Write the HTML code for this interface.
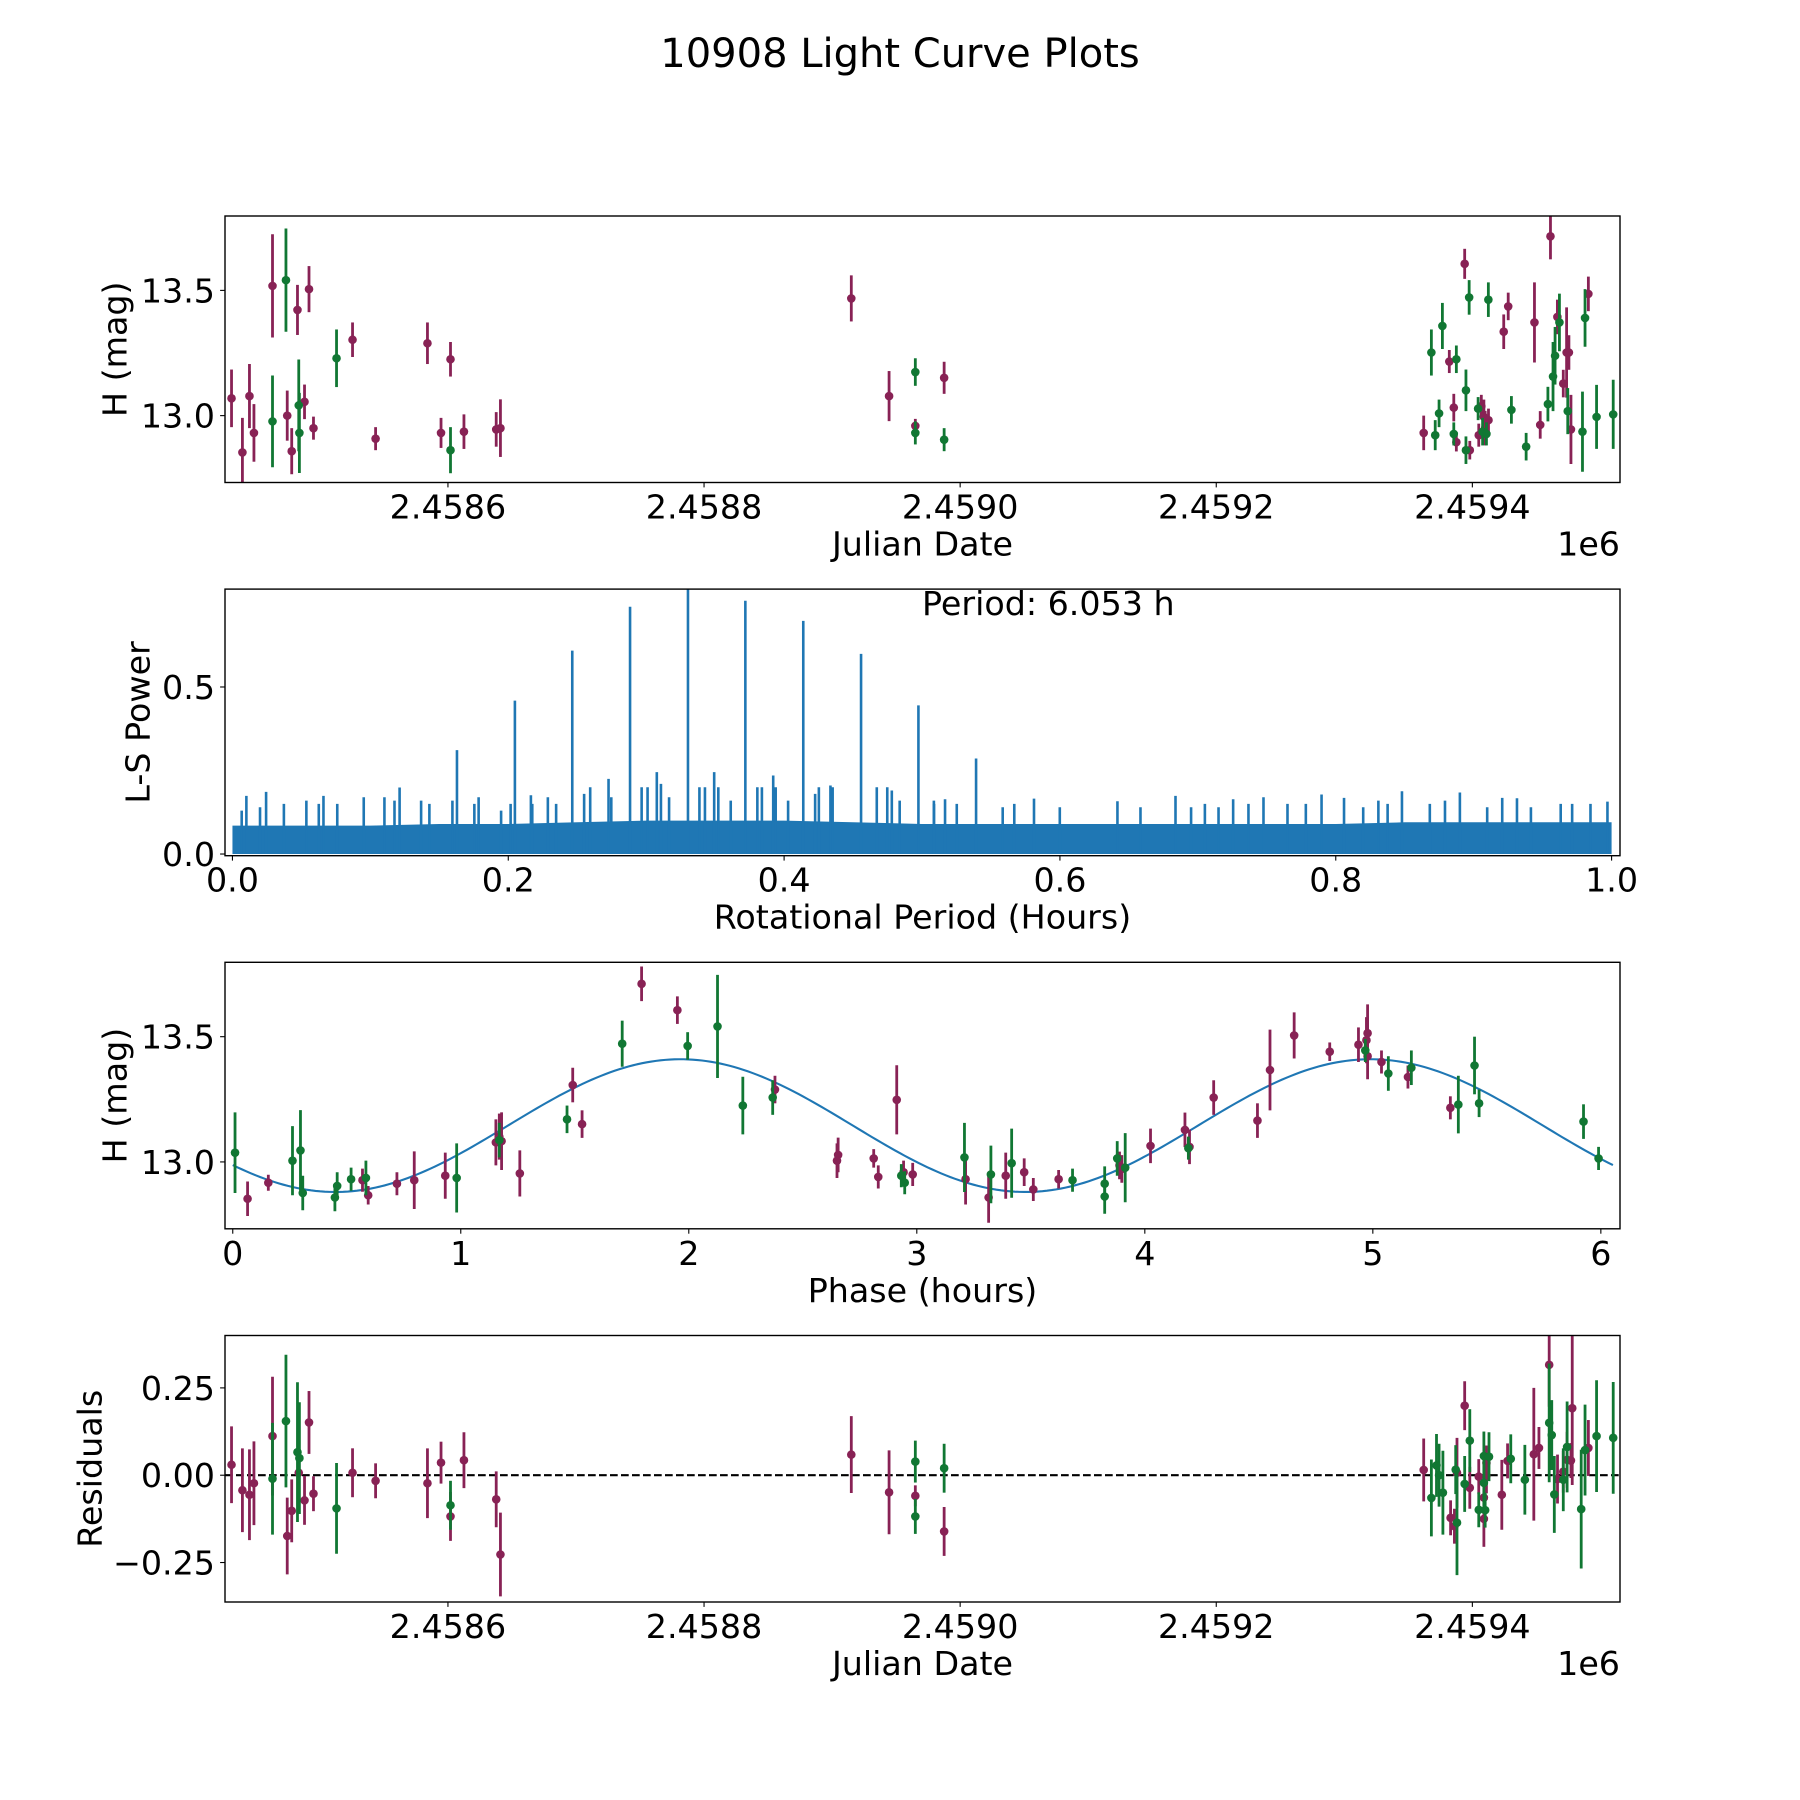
<!DOCTYPE html>
<html><head><meta charset="utf-8"><style>
html,body{margin:0;padding:0;background:#fff;}
svg{display:block;font-family:"DejaVu Sans","Liberation Sans",sans-serif;}
</style></head><body>
<svg id="fig" width="1800" height="1800" viewBox="0 0 1800 1800" xmlns="http://www.w3.org/2000/svg">
<rect x="0" y="0" width="1800" height="1800" fill="#fff"/>
<text x="900" y="67" font-size="40" text-anchor="middle">10908 Light Curve Plots</text>
</svg>
<script>
// ---------- Panel 1: light curve (JD vs H mag) ----------
const jdMaroon = [2458431,2458439.5,2458445,2458448.5,2458463,2458474.5,2458478,2458482.5,2458488,2458491.5,2458495,2458525.5,2458543.5,2458584,2458594.6,2458602,2458612.5,2458637.7,2458641,2458915,2458944.5,2458965,2458987.5,2459362,2459382,2459385.5,2459387.5,2459394,2459398,2459405,2459407,2459409,2459410,2459412.6,2459424.5,2459428,2459448.5,2459453,2459461,2459466.4,2459471,2459473.6,2459475.4,2459477,2459490.6];
const magMaroon = [13.069,12.853,13.078,12.931,13.518,13.0,12.858,13.422,13.055,13.505,12.95,13.303,12.908,13.289,12.931,13.225,12.936,12.945,12.95,13.468,13.078,12.959,13.151,12.931,13.216,13.032,12.894,13.606,12.862,12.922,13.037,12.995,12.95,12.982,13.335,13.436,13.372,12.963,13.716,13.394,13.128,13.252,13.252,12.945,13.486];
const errMaroon = [.115,.138,.128,.115,.206,.10,.092,.10,.069,.092,.046,.069,.046,.083,.06,.069,.069,.069,.115,.092,.10,.028,.064,.069,.046,.055,.037,.06,.037,.046,.046,.069,.069,.046,.069,.055,.16,.055,.092,.069,.055,.18,.069,.138,.069];
const jdGreen = [2458463,2458473.5,2458483.5,2458484,2458513,2458602,2458965,2458965,2458987.5,2459368,2459371,2459374,2459376.6,2459385.5,2459387.5,2459395,2459395,2459397.5,2459404.5,2459408,2459411,2459412.5,2459430.5,2459442,2459459,2459463,2459464.6,2459468,2459474.5,2459486,2459488,2459497,2459510];
const magGreen = [12.977,13.541,13.041,12.931,13.229,12.862,13.174,12.931,12.904,13.252,12.922,13.009,13.358,12.927,13.225,13.101,12.862,13.472,13.028,12.936,12.927,13.463,13.023,12.876,13.046,13.156,13.239,13.372,13.018,12.936,13.39,12.995,13.005];
const errGreen = [.183,.206,.183,.16,.115,.092,.055,.046,.046,.092,.06,.055,.092,.046,.055,.083,.055,.069,.046,.055,.046,.069,.055,.055,.069,.138,.115,.115,.092,.16,.115,.128,.138];
const jdTicks = [2458600,2458800,2459000,2459200,2459400];
const jdTickLabels = ["2.4586","2.4588","2.4590","2.4592","2.4594"];
const magTicks = [13.0,13.5];
const magTickLabels = ["13.0","13.5"];

// ---------- Panel 2: periodogram ----------
const peakPeriods = [0.3303,0.2883,0.3719,0.4139,0.2464,0.4558,0.2048,0.4974,0.1628,0.5392,0.3077,0.3493,0.2727,0.3921,0.4336,0.1212,0.0244,0.0101,0.0660,0.076,0.2164,0.1754,0.5087,0.6838,0.848,0.890,0.7897,0.806,0.9207,0.9314,0.7256,0.7476,0.5812,0.5167,0.997,0.6417,
 0.0067,0.020,0.0373,0.0536,0.0626,0.0952,0.1102,0.1175,0.1368,0.1428,0.1595,0.1785,0.1948,0.2017,0.2174,0.2287,0.2347,0.255,0.2594,0.2747,0.2967,0.301,0.3107,0.3166,0.3386,0.3426,0.3523,0.3613,0.3806,0.3839,0.3939,0.4029,0.4225,0.4252,0.4352,0.4672,0.4748,0.4781,0.4838,
 0.5086,0.5252,0.5585,0.5669,0.5999,0.6584,0.6951,0.7051,0.715,0.7367,0.765,0.7783,0.8199,0.8309,0.8376,0.8682,0.8792,0.9098,0.9415,0.9631,0.9714,0.9847];
const peakPowers = [0.80,0.740,0.758,0.698,0.609,0.599,0.459,0.445,0.311,0.286,0.245,0.245,0.225,0.235,0.205,0.199,0.186,0.174,0.174,0.15,0.176,0.15,0.15,0.174,0.188,0.184,0.178,0.168,0.168,0.167,0.164,0.170,0.166,0.164,0.157,0.158,
 .13,.14,.15,.16,.15,.17,.17,.16,.16,.15,.16,.17,.13,.15,.15,.17,.15,.18,.2,.17,.2,.2,.21,.17,.2,.2,.2,.16,.2,.2,.2,.16,.18,.2,.2,.2,.2,.19,.16,
 .16,.15,.14,.15,.14,.14,.14,.15,.14,.15,.15,.15,.14,.16,.15,.15,.16,.14,.14,.15,.15,.15];
const bandPeriods = [0,0.05,0.1,0.15,0.2,0.25,0.3,0.35,0.4,0.45,0.5,0.55,0.6,0.65,0.7,0.75,0.8,0.85,0.9,0.95,1.0];
const bandPowers = [0.085,0.085,0.085,0.09,0.09,0.095,0.10,0.10,0.10,0.095,0.09,0.09,0.09,0.09,0.09,0.09,0.09,0.095,0.095,0.095,0.095];
const perTicks = [0,0.2,0.4,0.6,0.8,1.0];
const perTickLabels = ["0.0","0.2","0.4","0.6","0.8","1.0"];
const powTicks = [0,0.5];
const powTickLabels = ["0.0","0.5"];

// ---------- Panel 3: phased light curve ----------
const phaseMaroon = [0.065,0.156,0.569,0.594,0.720,0.796,0.932,1.154,1.169,1.179,1.259,1.491,1.532,1.793,1.950,2.378,2.650,2.655,2.811,2.831,2.912,2.942,2.982,3.214,3.315,3.39,3.471,3.511,3.622,3.889,3.899,4.025,4.176,4.196,4.302,4.494,4.549,4.655,4.811,4.937,4.972,4.977,4.977,5.038,5.154,5.340];
const phMagMaroon = [12.853,12.917,12.927,12.867,12.913,12.927,12.945,13.078,13.101,13.083,12.954,13.307,13.151,13.711,13.606,13.289,13.005,13.028,13.014,12.940,13.248,12.959,12.950,12.931,12.858,12.945,12.959,12.890,12.931,12.986,12.972,13.064,13.128,13.06,13.257,13.165,13.367,13.505,13.44,13.468,13.486,13.514,13.422,13.399,13.339,13.216];
const phErrMaroon = [.069,.032,.046,.037,.046,.115,.092,.092,.092,.115,.092,.069,.055,.069,.055,.055,.069,.069,.037,.046,.138,.046,.046,.101,.101,.092,.055,.046,.037,.055,.055,.069,.069,.069,.069,.069,.161,.092,.037,.069,.092,.115,.092,.046,.046,.046];
const phaseGreen = [0.01,0.262,0.297,0.307,0.448,0.458,0.519,0.584,0.982,1.169,1.466,1.708,1.995,2.126,2.237,2.368,2.932,2.947,3.209,3.325,3.416,3.683,3.824,3.824,3.879,3.914,4.191,4.967,5.068,5.169,5.375,5.446,5.466,5.924,5.990];
const phMagGreen = [13.037,13.005,13.046,12.876,12.858,12.904,12.931,12.936,12.936,13.087,13.17,13.472,13.463,13.541,13.225,13.257,12.945,12.917,13.018,12.950,12.995,12.927,12.913,12.862,13.014,12.977,13.055,13.445,13.353,13.376,13.229,13.385,13.234,13.161,13.014];
const phErrGreen = [.161,.138,.161,.069,.055,.055,.046,.069,.138,.069,.055,.092,.055,.206,.115,.069,.046,.046,.138,.115,.138,.046,.069,.069,.069,.138,.046,.046,.069,.069,.115,.115,.055,.069,.046];
const modelMean = [13.145];
const modelAmp = [0.265];
const modelPhase0 = [0.45];
const modelHalfPeriod = [3.0265];
const modelSpan = [6.053];
const phaseTicks = [0,1,2,3,4,5,6];
const phaseTickLabels = ["0","1","2","3","4","5","6"];

// ---------- Panel 4: residuals ----------
const resJdMaroon = [2458431,2458439.5,2458445,2458448.5,2458463,2458474.5,2458478,2458483.5,2458488,2458491.5,2458495,2458525.5,2458543.5,2458584,2458594.6,2458602,2458612.5,2458637.7,2458641,2458915,2458944.5,2458965,2458987.5,2459362,2459383,2459386,2459388,2459394,2459398,2459405,2459409,2459409,2459411,2459411,2459423,2459427.5,2459448,2459452,2459460,2459466.5,2459471,2459474,2459477,2459478,2459490.6];
const resMaroon = [.03,-.043,-.056,-.023,.112,-.174,-.102,.007,-.072,.151,-.053,.007,-.016,-.023,.036,-.118,.043,-.069,-.227,.059,-.049,-.059,-.161,.015,-.122,-.146,.007,.199,-.036,-.004,-.064,-.125,.035,-.002,-.056,.041,.06,.078,.316,-.011,.01,.044,.042,.192,.078];
const resErrMaroon = [.11,.12,.13,.12,.17,.11,.09,.1,.07,.09,.05,.07,.05,.1,.06,.07,.08,.08,.12,.11,.12,.03,.07,.09,.05,.05,.1,.07,.06,.05,.06,.08,.05,.05,.1,.05,.19,.06,.12,.07,.06,.08,.05,.22,.08];
const resJdGreen = [2458463,2458473.5,2458482.5,2458484,2458513,2458602,2458965,2458965,2458987.5,2459368,2459372,2459374,2459377,2459387,2459388,2459394,2459398,2459405,2459409,2459409,2459410,2459413,2459430,2459441,2459460,2459462,2459464,2459471,2459474,2459485,2459488,2459497,2459510];
const resGreen = [-.01,.155,.066,.049,-.095,-.086,.039,-.118,.02,-.065,.028,0,-.05,.016,-.136,-.025,.099,-.099,.055,-.022,-.1,.053,.047,-.013,.15,.115,-.055,-.013,.081,-.097,.072,.112,.107];
const resErrGreen = [.16,.19,.2,.16,.13,.07,.06,.05,.07,.11,.09,.09,.12,.07,.15,.08,.09,.05,.07,.07,.05,.07,.07,.1,.17,.1,.11,.09,.13,.17,.13,.16,.16];
const resTicks = [-0.25,0,0.25];
const resTickLabels = ["\u22120.25","0.00","0.25"];

// ---------- drawing ----------
const NS = "http://www.w3.org/2000/svg";
const svg = document.getElementById('fig');
const MAROON = "#882255", GREEN = "#117733", BLUE = "#1f77b4";
const FS = 33.3;
function mk(tag, attrs, parent){
  const e = document.createElementNS(NS, tag);
  for (const k in attrs) e.setAttribute(k, attrs[k]);
  (parent||svg).appendChild(e);
  return e;
}
function makeAxes(name, top, bottom, xmin, xmax, ymin, ymax){
  const L = 225, R = 1620;
  const g = mk('g', {});
  
  
  const clipId = 'clip-' + name;
  const cp = mk('clipPath', {id: clipId}, g);
  mk('rect', {x: L, y: top, width: R-L, height: bottom-top}, cp);
  const plot = mk('g', {'clip-path': 'url(#' + clipId + ')'}, g);
  
  
  return {g, plot, L, R, top, bottom,
    sx: v => L + (v - xmin) / (xmax - xmin) * (R - L),
    sy: v => bottom - (v - ymin) / (ymax - ymin) * (bottom - top)};
}
function frame(ax){
  const r = mk('rect', {x: ax.L, y: ax.top, width: ax.R-ax.L, height: ax.bottom-ax.top, fill: 'none', stroke: '#000', 'stroke-width': 1.4}, ax.g);
  
  
}
function xticks(ax, ticks, labels){
  ticks.forEach((t, i) => {
    const x = ax.sx(t);
    mk('line', {x1: x, x2: x, y1: ax.bottom, y2: ax.bottom + 4.9, stroke: '#000', 'stroke-width': 1.1}, ax.g);
    const tx = mk('text', {x: x, y: ax.bottom + 36, 'font-size': FS, 'text-anchor': 'middle'}, ax.g);
    tx.textContent = labels[i];
    
    
  });
}
function yticks(ax, ticks, labels){
  ticks.forEach((t, i) => {
    const y = ax.sy(t);
    mk('line', {x1: ax.L - 4.9, x2: ax.L, y1: y, y2: y, stroke: '#000', 'stroke-width': 1.1}, ax.g);
    const tx = mk('text', {x: ax.L - 10, y: y + 12, 'font-size': FS, 'text-anchor': 'end'}, ax.g);
    tx.textContent = labels[i];
    
    
  });
}
function xlabel(ax, s){
  const t = mk('text', {x: (ax.L + ax.R)/2, y: ax.bottom + 73, 'font-size': FS, 'text-anchor': 'middle'}, ax.g);
  t.textContent = s;
  
  
}
function ylabel(ax, s, x){
  const cy = (ax.top + ax.bottom)/2;
  const t = mk('text', {x: x, y: cy, 'font-size': FS, 'text-anchor': 'middle', 'dominant-baseline': 'central', transform: 'rotate(-90 ' + x + ' ' + cy + ')'}, ax.g);
  t.textContent = s;
  
  
}
function offsetLabel(ax){
  const t = mk('text', {x: ax.R, y: ax.bottom + 73, 'font-size': FS, 'text-anchor': 'end'}, ax.g);
  t.textContent = '1e6';
  
  
}
function errorbars(ax, xs, ys, es, color, name){
  const grp = mk('g', {}, ax.plot);
  
  
  xs.forEach((xv, i) => {
    const e = es[i] || 0.08;
    const x = ax.sx(xv);
    mk('line', {x1: x, x2: x, y1: ax.sy(ys[i] - e), y2: ax.sy(ys[i] + e), stroke: color, 'stroke-width': 2.8}, grp);
  });
  xs.forEach((xv, i) => {
    const c = mk('circle', {cx: ax.sx(xv), cy: ax.sy(ys[i]), r: 4.3, fill: color}, grp);
    
    
  });
}

// Panel 1
const ax1 = makeAxes('light-curve-panel', 216, 482.5, 2458425.9, 2459515.3, 12.733, 13.797);
errorbars(ax1, jdMaroon, magMaroon, errMaroon, MAROON, 'series-filter-1');
errorbars(ax1, jdGreen, magGreen, errGreen, GREEN, 'series-filter-2');
frame(ax1); xticks(ax1, jdTicks, jdTickLabels); yticks(ax1, magTicks, magTickLabels);
xlabel(ax1, 'Julian Date'); ylabel(ax1, 'H (mag)', 115); offsetLabel(ax1);

// Panel 2
const ax2 = makeAxes('periodogram-panel', 589.1, 855.7, -0.0054, 1.0061, -0.005, 0.793);
{
  let d = 'M' + ax2.sx(bandPeriods[0]) + ' ' + ax2.sy(0);
  bandPeriods.forEach((p, i) => { d += ' L' + ax2.sx(p) + ' ' + ax2.sy(bandPowers[i]); });
  d += ' L' + ax2.sx(bandPeriods[bandPeriods.length-1]) + ' ' + ax2.sy(0) + ' Z';
  const band = mk('path', {d: d, fill: BLUE}, ax2.plot);
  
  
  const pg = mk('g', {}, ax2.plot);
  
  
  peakPeriods.forEach((p, i) => {
    const x = ax2.sx(p);
    mk('line', {x1: x, x2: x, y1: ax2.sy(0), y2: ax2.sy(peakPowers[i]), stroke: BLUE, 'stroke-width': 2.6}, pg);
  });
}
frame(ax2); xticks(ax2, perTicks, perTickLabels); yticks(ax2, powTicks, powTickLabels);
xlabel(ax2, 'Rotational Period (Hours)'); ylabel(ax2, 'L-S Power', 138);
{
  const t = mk('text', {x: 922, y: 615, 'font-size': FS, 'text-anchor': 'start'}, ax2.g);
  t.textContent = 'Period: 6.053 h';
  
  
}

// Panel 3
const ax3 = makeAxes('phased-curve-panel', 962.3, 1228.8, -0.034, 6.084, 12.733, 13.797);
{
  let d = '';
  const n = 300;
  for (let i = 0; i <= n; i++){
    const p = modelSpan[0] * i / n;
    const v = modelMean[0] - modelAmp[0] * Math.cos(2*Math.PI*(p - modelPhase0[0]) / modelHalfPeriod[0]);
    d += (i ? ' L' : 'M') + ax3.sx(p).toFixed(2) + ' ' + ax3.sy(v).toFixed(2);
  }
  const line = mk('path', {d: d, fill: 'none', stroke: BLUE, 'stroke-width': 2.1}, ax3.plot);
  
  
}
errorbars(ax3, phaseMaroon, phMagMaroon, phErrMaroon, MAROON, 'phased-series-filter-1');
errorbars(ax3, phaseGreen, phMagGreen, phErrGreen, GREEN, 'phased-series-filter-2');
frame(ax3); xticks(ax3, phaseTicks, phaseTickLabels); yticks(ax3, magTicks, magTickLabels);
xlabel(ax3, 'Phase (hours)'); ylabel(ax3, 'H (mag)', 115);

// Panel 4
const ax4 = makeAxes('residuals-panel', 1335.5, 1602, 2458425.9, 2459515.3, -0.363, 0.4);
{
  const z = mk('line', {x1: ax4.L, x2: ax4.R, y1: ax4.sy(0), y2: ax4.sy(0), stroke: '#000', 'stroke-width': 2.1, 'stroke-dasharray': '7.7 3.3'}, ax4.plot);
  
  
}
errorbars(ax4, resJdMaroon, resMaroon, resErrMaroon, MAROON, 'residuals-filter-1');
errorbars(ax4, resJdGreen, resGreen, resErrGreen, GREEN, 'residuals-filter-2');
frame(ax4); xticks(ax4, jdTicks, jdTickLabels); yticks(ax4, resTicks, resTickLabels);
xlabel(ax4, 'Julian Date'); ylabel(ax4, 'Residuals', 90); offsetLabel(ax4);
</script>
</body></html>
